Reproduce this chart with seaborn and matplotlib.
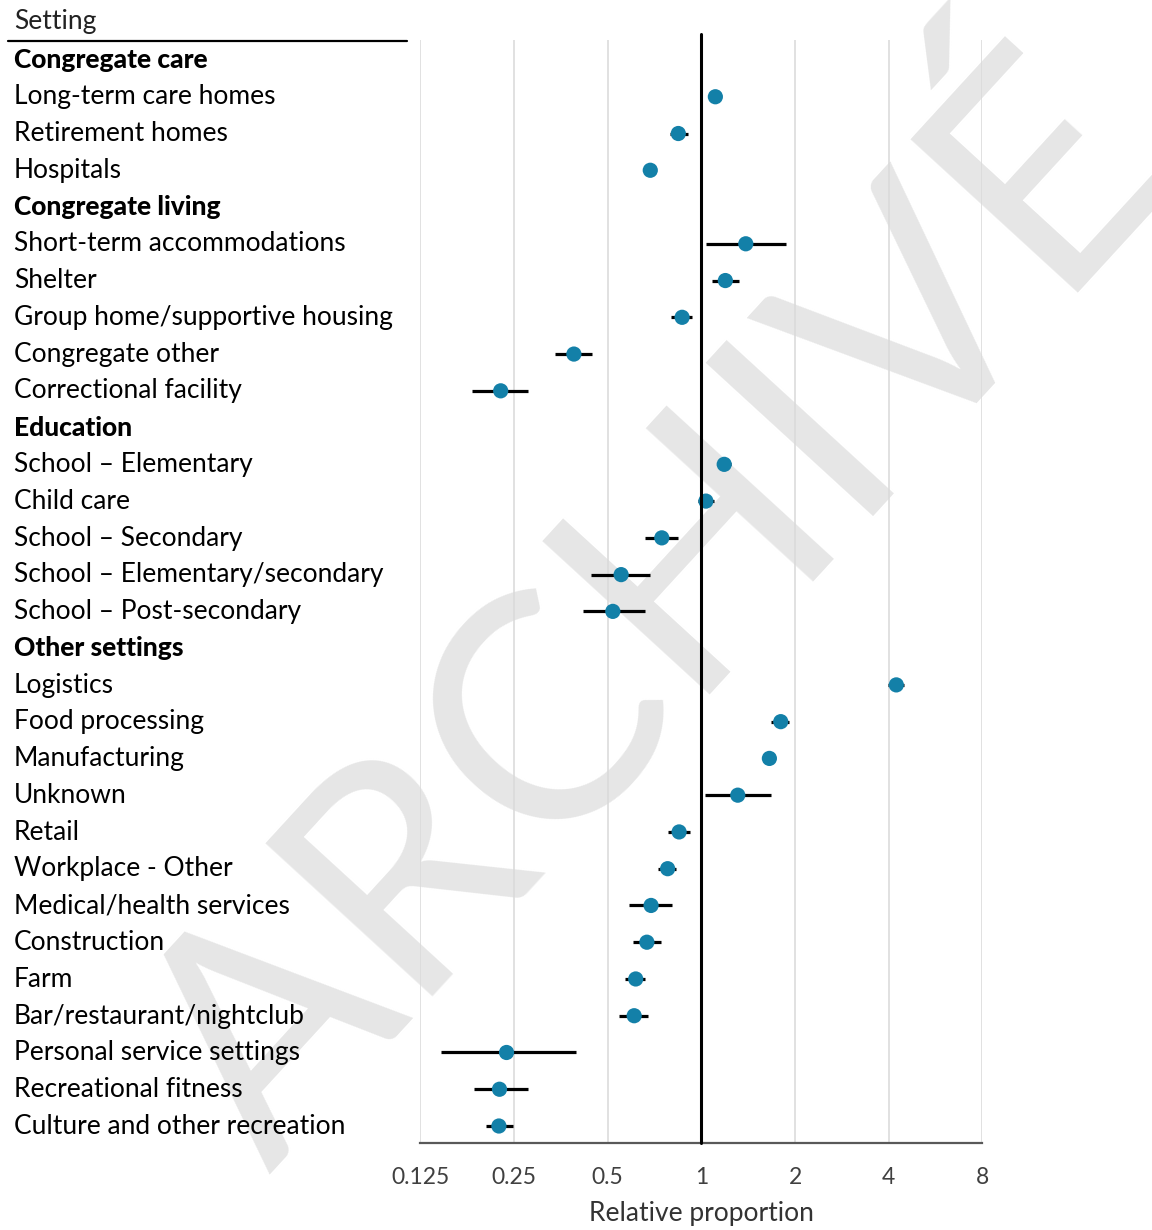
import numpy as np
import pandas as pd
import matplotlib
matplotlib.use("Agg")
import matplotlib.pyplot as plt
import seaborn as sns

# Settings in display order; group headers carry no estimate
settings = [
    "Congregate care", "Long-term care homes", "Retirement homes", "Hospitals",
    "Congregate living", "Short-term accommodations", "Shelter",
    "Group home/supportive housing", "Congregate other", "Correctional facility",
    "Education", "School \u2013 Elementary", "Child care", "School \u2013 Secondary",
    "School \u2013 Elementary/secondary", "School \u2013 Post-secondary",
    "Other settings", "Logistics", "Food processing", "Manufacturing", "Unknown",
    "Retail", "Workplace - Other", "Medical/health services", "Construction",
    "Farm", "Bar/restaurant/nightclub", "Personal service settings",
    "Recreational fitness", "Culture and other recreation",
]
headers = ["Congregate care", "Congregate living", "Education", "Other settings"]

estimate = [
    np.nan, 1.11, 0.844, 0.686,
    np.nan, 1.39, 1.195, 0.868, 0.390, 0.227,
    np.nan, 1.185, 1.035, 0.747, 0.553, 0.520,
    np.nan, 4.23, 1.80, 1.655, 1.31, 0.849, 0.780, 0.690, 0.669, 0.616,
    0.609, 0.237, 0.225, 0.224,
]
lower = [
    np.nan, 1.08, 0.795, 0.67,
    np.nan, 1.037, 1.08, 0.802, 0.339, 0.183,
    np.nan, 1.125, 0.978, 0.661, 0.443, 0.416,
    np.nan, 3.99, 1.68, 1.62, 1.026, 0.782, 0.728, 0.587, 0.604, 0.569,
    0.545, 0.146, 0.187, 0.203,
]
upper = [
    np.nan, 1.14, 0.906, 0.70,
    np.nan, 1.875, 1.32, 0.932, 0.445, 0.278,
    np.nan, 1.25, 1.095, 0.839, 0.686, 0.660,
    np.nan, 4.48, 1.92, 1.69, 1.675, 0.918, 0.827, 0.804, 0.741, 0.659,
    0.675, 0.395, 0.278, 0.248,
]
tick_values = [0.125, 0.25, 0.5, 1, 2, 4, 8]
tick_labels = ["0.125", "0.25", "0.5", "1", "2", "4", "8"]

df = pd.DataFrame({"setting": settings, "estimate": estimate,
                   "lower": lower, "upper": upper})
df["row"] = np.arange(len(df))
pts = df.dropna(subset=["estimate"])

sns.set_theme(style="white")
plt.rcParams["font.family"] = ["Lato", "DejaVu Sans"]

W, H = 1152, 1230
fig = plt.figure(figsize=(W / 100, H / 100), dpi=100)
ax = fig.add_axes([420 / W, 1 - 1143 / H, (982.5 - 420) / W, (1143 - 40) / H])
ax.set_facecolor("none")

# Watermark behind the plot
fig.text(726 / W, 1 - 677 / H, "ARCHIV\u00c9", rotation=47.5, rotation_mode="anchor",
         ha="center", va="baseline", fontsize=228, color="#e6e6e6", zorder=-5,
         family="Lato")

ax.set_xscale("log", base=2)
ax.set_xlim(0.125, 8)
row_h = 36.77
y_bottom = 29 + (1143 - 1126) / row_h
ax.set_ylim(y_bottom, -(60 - 40) / row_h)

ax.grid(axis="x", color="#d9d9d9", lw=1.1, zorder=0)
ax.grid(axis="y", visible=False)

# Confidence intervals
ax.hlines(pts["row"], pts["lower"], pts["upper"], color="black", lw=2.3, zorder=2)
# Point estimates
sns.scatterplot(data=pts, x="estimate", y="row", ax=ax, s=120, color="#1380a8",
                edgecolor="none", zorder=3, legend=False)

# Reference line at 1
ax.plot([1, 1], [y_bottom, -(60 - 34) / row_h], color="black",
        lw=2.2, clip_on=False, zorder=4)

ax.set_xticks(tick_values)
ax.set_xticklabels(tick_labels)
ax.xaxis.set_minor_locator(matplotlib.ticker.NullLocator())
ax.tick_params(axis="x", length=0, pad=17, labelsize=16.5, labelcolor="#404040")
ax.set_yticks([])
ax.set_ylabel("")
ax.set_xlabel("Relative proportion", fontsize=19, color="#333333", labelpad=10)

for s in ["top", "right", "left"]:
    ax.spines[s].set_visible(False)
ax.spines["bottom"].set_color("#595959")
ax.spines["bottom"].set_linewidth(1.6)

# Row labels on the left
for _, r in df.iterrows():
    y_px = 60 + r["row"] * row_h
    bold = r["setting"] in headers
    fig.text(14 / W, 1 - y_px / H, r["setting"], ha="left", va="center",
             fontsize=19, fontweight="black" if bold else "normal", color="black")

fig.text(14 / W, 1 - 22 / H, "Setting", ha="left", va="center", fontsize=19,
         color="#222222")
fig.add_artist(matplotlib.lines.Line2D([8 / W, 407 / W], [1 - 41 / H, 1 - 41 / H],
                                       color="black", lw=1.6))

fig.savefig("out.png", dpi=100)
